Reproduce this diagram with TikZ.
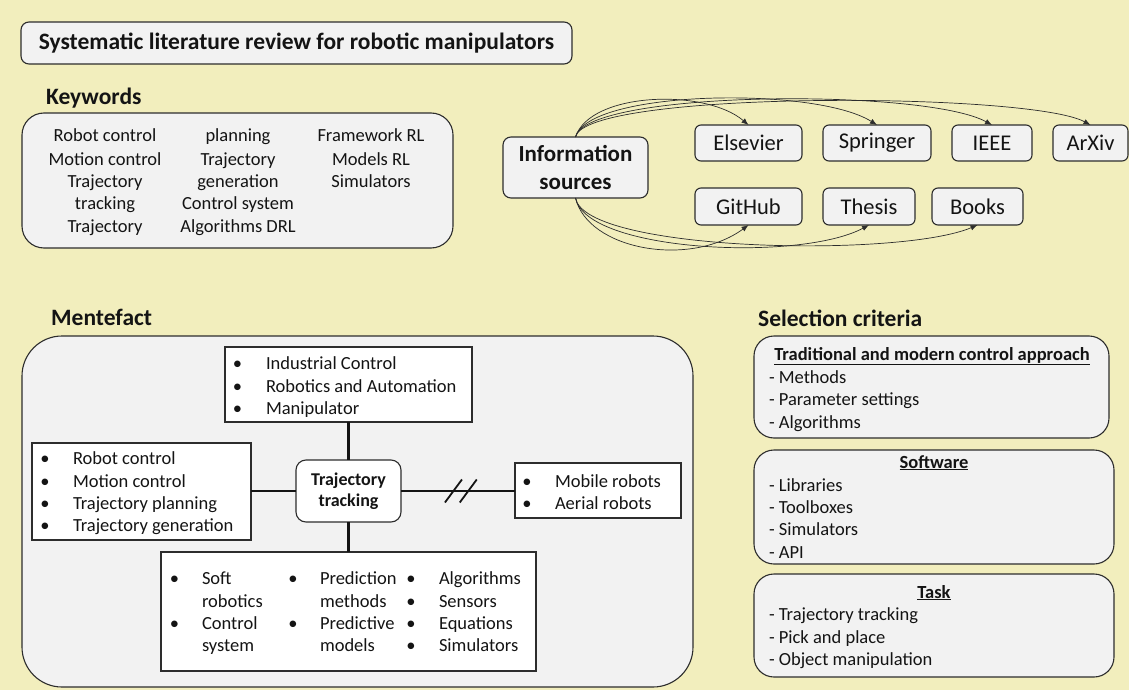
\documentclass[tikz,border=0pt]{standalone}
\usepackage{fontspec}
\setmainfont{Carlito}
\usetikzlibrary{arrows.meta,calc}
\definecolor{bgyellow}{RGB}{242,238,189}
\definecolor{boxgray}{RGB}{242,242,242}
\definecolor{edgegray}{RGB}{45,45,45}
\definecolor{inkblack}{RGB}{20,20,20}

% bullet line: name, bullet x, text x, baseline y, text
\newcommand{\bitem}[5]{%
  \node[txt,anchor=base] (#1b) at (#2,#4) {\textbullet};
  \node[txt,anchor=base west] (#1) at (#3,#4) {#5};}
% plain left-aligned line: name, x, baseline y, text
\newcommand{\pline}[4]{\node[txt,anchor=base west] (#1) at (#2,#3) {#4};}
% centred line: name, x, baseline y, text
\newcommand{\cword}[4]{\node[txt,anchor=base] (#1) at (#2,#3) {#4};}

\begin{document}
\begin{tikzpicture}[x=1pt,y=-1pt,
  txt/.style={font=\fontsize{18.5}{22.4}\selectfont,text=inkblack,inner sep=0pt,outer sep=0pt},
  hdr/.style={font=\fontsize{23.5}{28}\selectfont\bfseries,text=inkblack,inner sep=0pt,anchor=base west},
  panel/.style={draw=edgegray,line width=1.1pt,fill=boxgray,inner sep=0pt,outer sep=0pt},
  srcbox/.style={panel,rounded corners=6pt,font=\fontsize{22.5}{27}\selectfont,text=inkblack},
  whitebox/.style={draw=edgegray,line width=1.1pt,fill=white,inner sep=0pt,outer sep=0pt},
  conn/.style={draw=edgegray,line width=0.7pt,-{Latex[length=7pt,width=5.5pt]}},
  link/.style={draw=inkblack,line width=2.2pt},
]
\useasboundingbox (0,0) rectangle (1129,690);
\fill[bgyellow] (0,0) rectangle (1129,690);

% ---------- title ----------
\node[panel,rounded corners=8pt,minimum width=551pt,minimum height=42pt,
      font=\fontsize{23.5}{28}\selectfont\bfseries,text=inkblack] (title) at (296.5,43)
      {Systematic literature review for robotic manipulators};

% ---------- keywords ----------
\node[hdr] (kwhead) at (46,105) {Keywords};
\node[panel,rounded corners=22pt,minimum width=431pt,minimum height=135pt] (kw) at (237.5,180.5) {};
\cword{k11}{105}{142}{Robot control}
\cword{k12}{105}{165}{Motion control}
\cword{k13}{105}{187}{Trajectory}
\cword{k14}{105}{209}{tracking}
\cword{k15}{105}{232}{Trajectory}
\cword{k21}{238}{142}{planning}
\cword{k22}{238}{165}{Trajectory}
\cword{k23}{238}{187}{generation}
\cword{k24}{238}{209}{Control system}
\cword{k25}{238}{232}{Algorithms DRL}
\cword{k31}{371}{142}{Framework RL}
\cword{k32}{371}{165}{Models RL}
\cword{k33}{371}{187}{Simulators}

% ---------- information sources ----------
\node[panel,rounded corners=8pt,minimum width=145pt,minimum height=61pt,
      font=\fontsize{23}{28.5}\selectfont\bfseries,text=inkblack,align=center] (info) at (575.5,167.5)
      {Information\\sources};
\node[srcbox,minimum width=107pt,minimum height=36pt] (els) at (748.5,143) {Elsevier};
\node[srcbox,minimum width=108pt,minimum height=36pt] (spr) at (877,143) {Springer};
\node[srcbox,minimum width=80pt,minimum height=36pt] (ieee) at (992,143) {IEEE};
\node[srcbox,minimum width=75pt,minimum height=36pt] (arx) at (1090.5,143) {ArXiv};
\node[srcbox,minimum width=107pt,minimum height=37pt] (git) at (748.5,206.5) {GitHub};
\node[srcbox,minimum width=92pt,minimum height=37pt] (the) at (869,206.5) {Thesis};
\node[srcbox,minimum width=91pt,minimum height=37pt] (boo) at (977.5,206.5) {Books};

\draw[conn] (info.north) .. controls (590,92) and (705,88) .. (els.north);
\draw[conn] (info.north) .. controls (588,90) and (815,86) .. (spr.north);
\draw[conn] (info.north) .. controls (586,90) and (925,88) .. (ieee.north);
\draw[conn] (info.north) .. controls (585,90) and (1030,92) .. (arx.north);
\draw[conn] (info.south) .. controls (588,250) and (690,268) .. (git.south);
\draw[conn] (info.south) .. controls (586,252) and (800,262) .. (the.south);
\draw[conn] (info.south) .. controls (585,252) and (900,258) .. (boo.south);

% ---------- mentefact ----------
\node[hdr] (mfhead) at (51,325) {Mentefact};
\node[panel,rounded corners=40pt,minimum width=671pt,minimum height=351pt] (mf) at (357.5,511.5) {};

\node[whitebox,minimum width=247pt,minimum height=75pt] (top) at (348.5,384.5) {};
\node[whitebox,minimum width=219pt,minimum height=97pt] (lft) at (141.5,491.5) {};
\node[whitebox,rounded corners=10pt,minimum width=105pt,minimum height=62pt,
      font=\fontsize{18}{21.5}\selectfont\bfseries,text=inkblack,align=center] (ctr) at (348.5,491)
      {Trajectory\\tracking};
\node[whitebox,minimum width=166pt,minimum height=55pt] (rgt) at (598,490.5) {};
\node[whitebox,minimum width=375pt,minimum height=119pt] (bot) at (348.5,611.5) {};

\draw[link] (top.south) -- (ctr.north);
\draw[link] (ctr.south) -- (bot.north);
\draw[link] (ctr.west) -- (ctr.west -| lft.east);
\draw[link] (ctr.east) -- (ctr.east -| rgt.west);
\coordinate (cut1) at ($(ctr.east)!0.46!(ctr.east -| rgt.west)$);
\coordinate (cut2) at ($(ctr.east)!0.59!(ctr.east -| rgt.west)$);
\draw[inkblack,line width=1.8pt] ($(cut1)+(-8.5,11.5)$) -- ($(cut1)+(8.5,-11.5)$);
\draw[inkblack,line width=1.8pt] ($(cut2)+(-8.5,11.5)$) -- ($(cut2)+(8.5,-11.5)$);

\bitem{t1}{237.5}{266}{369}{Industrial Control}
\bitem{t2}{237.5}{266}{392}{Robotics and Automation}
\bitem{t3}{237.5}{266}{414}{Manipulator}

\bitem{l1}{45}{73}{464}{Robot control}
\bitem{l2}{45}{73}{487}{Motion control}
\bitem{l3}{45}{73}{509}{Trajectory planning}
\bitem{l4}{45}{73}{531}{Trajectory generation}

\bitem{r1}{527}{555}{487}{Mobile robots}
\bitem{r2}{527}{555}{509}{Aerial robots}

\bitem{b11}{174.5}{202}{584}{Soft}
\pline{b12}{202}{607}{robotics}
\bitem{b13}{174.5}{202}{629}{Control}
\pline{b14}{202}{651}{system}
\bitem{b21}{293}{320}{584}{Prediction}
\pline{b22}{320}{607}{methods}
\bitem{b23}{293}{320}{629}{Predictive}
\pline{b24}{320}{651}{models}
\bitem{b31}{411}{439}{584}{Algorithms}
\bitem{b32}{411}{439}{607}{Sensors}
\bitem{b33}{411}{439}{629}{Equations}
\bitem{b34}{411}{439}{651}{Simulators}

% ---------- selection criteria ----------
\node[hdr] (schead) at (758,326) {Selection criteria};
\node[panel,rounded corners=20pt,minimum width=355pt,minimum height=102pt] (sel1) at (931.5,387) {};
\node[panel,rounded corners=20pt,minimum width=360pt,minimum height=114pt] (sel2) at (934,507) {};
\node[panel,rounded corners=20pt,minimum width=360pt,minimum height=103pt] (sel3) at (934,625.5) {};

\node[txt,anchor=base,font=\fontsize{18.5}{22.4}\selectfont\bfseries] (s1h) at (932,360)
  {\underline{Traditional and modern control approach}};
\pline{s11}{769}{383}{- Methods}
\pline{s12}{769}{405}{- Parameter settings}
\pline{s13}{769}{428}{- Algorithms}

\node[txt,anchor=base,font=\fontsize{18.5}{22.4}\selectfont\bfseries] (s2h) at (934,468)
  {\underline{Software}};
\pline{s21}{769}{491}{- Libraries}
\pline{s22}{769}{513}{- Toolboxes}
\pline{s23}{769}{535}{- Simulators}
\pline{s24}{769}{558}{- API}

\node[txt,anchor=base,font=\fontsize{18.5}{22.4}\selectfont\bfseries] (s3h) at (934,598)
  {\underline{Task}};
\pline{s31}{769}{620}{- Trajectory tracking}
\pline{s32}{769}{643}{- Pick and place}
\pline{s33}{769}{665}{- Object manipulation}
\end{tikzpicture}
\end{document}
